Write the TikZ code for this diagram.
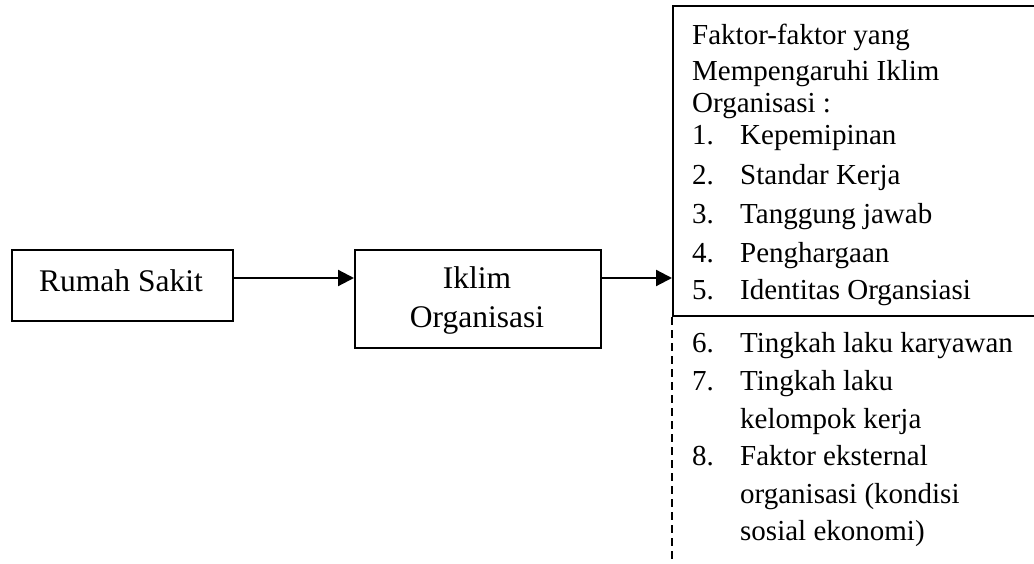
\documentclass[tikz,border=0pt]{standalone}
\usepackage{fontspec}
\setmainfont{Liberation Serif}
\usetikzlibrary{arrows.meta}
\begin{document}
\begin{tikzpicture}[x=1pt,y=-1pt,
  boxed/.style={draw,line width=2pt,inner sep=0pt},
  conn/.style={line width=2.2pt,-{Triangle[length=16pt,width=16pt]}},
  bigtxt/.style={font=\fontsize{31.5}{38}\selectfont,inner sep=0pt},
  lst/.style={font=\fontsize{29}{34}\selectfont,inner sep=0pt,anchor=base west}]
\useasboundingbox (0,0) rectangle (1034,564);
\clip (0,0) rectangle (1034,564);
% boxes
\node[boxed,anchor=north west,minimum width=221pt,minimum height=71pt] (rs) at (11,249) {};
\node[bigtxt,anchor=base] (rst) at (121,291) {Rumah Sakit};
\node[boxed,anchor=north west,minimum width=246pt,minimum height=98pt] (io) at (354,249) {};
\node[bigtxt,anchor=base] (io1) at (477,289) {Iklim};
\node[bigtxt,anchor=base] (io2) at (477,327) {Organisasi};
\node[boxed,anchor=north west,minimum width=420pt,minimum height=310pt] (fac) at (672,5) {};
% dashed continuation
\coordinate (dend) at (672,570);
\draw[line width=2pt,dash pattern=on 8pt off 5pt] (fac.south west) -- (dend);
% connectors
\draw[conn] (rs.east |- 0,278) -- (io.west |- 0,278);
\draw[conn] (io.east |- 0,278) -- (fac.west |- 0,278);
% list text
\node[lst] (h1) at (692,45) {Faktor-faktor yang};
\node[lst] (h2) at (692,81) {Mempengaruhi Iklim};
\node[lst] (h3) at (692,113) {Organisasi :};
\node[lst] (n1) at (692,145) {1.};
\node[lst] (t1) at (740,145) {Kepemipinan};
\node[lst] (n2) at (692,185) {2.};
\node[lst] (t2) at (740,185) {Standar Kerja};
\node[lst] (n3) at (692,224) {3.};
\node[lst] (t3) at (740,224) {Tanggung jawab};
\node[lst] (n4) at (692,263) {4.};
\node[lst] (t4) at (740,263) {Penghargaan};
\node[lst] (n5) at (692,300) {5.};
\node[lst] (t5) at (740,300) {Identitas Organsiasi};
\node[lst] (n6) at (692,352) {6.};
\node[lst] (t6) at (740,352) {Tingkah laku karyawan};
\node[lst] (n7) at (692,390) {7.};
\node[lst] (t7) at (740,390) {Tingkah laku};
\node[lst] (t7b) at (740,428) {kelompok kerja};
\node[lst] (n8) at (692,465) {8.};
\node[lst] (t8) at (740,465) {Faktor eksternal};
\node[lst] (t8b) at (740,503) {organisasi (kondisi};
\node[lst] (t8c) at (740,540) {sosial ekonomi)};
\end{tikzpicture}
\end{document}
